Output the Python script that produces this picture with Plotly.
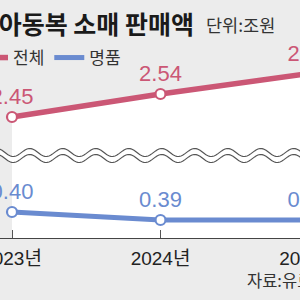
import numpy as np
import plotly.graph_objects as go

# ---- data ----
years = [2023, 2024, 2025]
year_labels = ["2023년", "2024년", "2025년"]
total_sales = [2.45, 2.54, 2.62]     # 전체 (조원)
luxury_sales = [0.40, 0.39, 0.39]    # 명품 (조원)
series_names = ["전체", "명품"]
title_text = "국내 아동복 소매 판매액"
unit_text = "단위:조원"
source_text = "자료:유로모니터"

# ---- style ----
RED = "#cb5775"
BLUE = "#6a8bd0"
BG = "#ececec"
NUM_FONT = "Liberation Sans Narrow, Arial Narrow, Liberation Sans, Noto Sans CJK KR"
KR_FONT = "Noto Sans CJK KR, Noto Sans, sans-serif"

W, H = 320, 300
PLOT_H = 238  # plot area height in px (axis line at y=238)

# x range so that first year sits 12px from left edge, 148.5px per year
px_per_year = 148.5
x0 = years[0] - 12 / px_per_year
x1 = x0 + W / px_per_year

# upper (total) axis scale
red_ppu = 255.6
r0 = total_sales[0] - (PLOT_H - 117) / red_ppu
r1 = r0 + PLOT_H / red_ppu
# lower (luxury) axis scale
blue_ppu = 800.0
b0 = luxury_sales[0] - (PLOT_H - 212) / blue_ppu
b1 = b0 + PLOT_H / blue_ppu

fig = go.Figure()

# white area under the total line
fig.add_trace(go.Scatter(x=years, y=total_sales, mode="lines", fill="tozeroy",
                         fillcolor="white", line=dict(width=0, color="white"),
                         showlegend=False, hoverinfo="skip", yaxis="y"))
# legend + lines
fig.add_trace(go.Scatter(x=years, y=total_sales, mode="lines", name=series_names[0],
                         line=dict(color=RED, width=5.5), yaxis="y"))
fig.add_trace(go.Scatter(x=years, y=luxury_sales, mode="lines", name=series_names[1],
                         line=dict(color=BLUE, width=5), yaxis="y2"))
# markers + value labels
fig.add_trace(go.Scatter(x=years, y=total_sales, mode="markers+text",
                         marker=dict(size=10, color="white", line=dict(color=RED, width=2.2)),
                         texttemplate="%{y:.2f}", textposition="top center",
                         textfont=dict(family=NUM_FONT, size=22, color=RED),
                         cliponaxis=False, showlegend=False, yaxis="y"))
fig.add_trace(go.Scatter(x=years, y=luxury_sales, mode="markers+text",
                         marker=dict(size=10, color="white", line=dict(color=BLUE, width=2.2)),
                         texttemplate="%{y:.2f}", textposition="top center",
                         textfont=dict(family=NUM_FONT, size=22, color=BLUE),
                         cliponaxis=False, showlegend=False, yaxis="y2"))

# wavy axis-break decoration (paper coords)
xs = np.arange(-5, W + 6, 1.0)
period = 33.0
upper = 152.5 + 4.0 * np.sin(2 * np.pi * (xs - 5) / period)
lower = upper + 6.0
def to_paper(px, py):
    return px / W, (PLOT_H - py) / PLOT_H
def path_of(xa, ya):
    pts = [to_paper(a, b) for a, b in zip(xa, ya)]
    return "M" + " L".join(f"{p[0]:.5f},{p[1]:.5f}" for p in pts)
band = path_of(xs, upper) + " L" + " L".join(
    f"{to_paper(a, b)[0]:.5f},{to_paper(a, b)[1]:.5f}" for a, b in zip(xs[::-1], lower[::-1])) + " Z"
fig.add_shape(type="path", path=band, xref="paper", yref="paper",
              fillcolor="white", line=dict(width=0), layer="above")
for curve in (upper, lower):
    fig.add_shape(type="path", path=path_of(xs, curve), xref="paper", yref="paper",
                  line=dict(color="#555555", width=1.2), layer="above")

def ann(text, xpx, ypx, size, color, anchor="left", bold=False, family=KR_FONT):
    px, py = to_paper(xpx, ypx)
    fig.add_annotation(text=f"<b>{text}</b>" if bold else text, x=px, y=py,
                       xref="paper", yref="paper", xanchor=anchor, yanchor="middle",
                       showarrow=False, font=dict(family=family, size=size, color=color))

ann(title_text, 196, 23, 25, "#1a1a1a", anchor="right", bold=True)
ann(unit_text, 204, 25, 17.5, "#333333")
ann(source_text, 245, 280, 16.5, "#333333")

fig.update_layout(
    width=W, height=H,
    margin=dict(l=0, r=0, t=0, b=H - PLOT_H, autoexpand=False),
    paper_bgcolor=BG, plot_bgcolor=BG,
    showlegend=True,
    legend=dict(orientation="h", x=-27 / W, xanchor="left", y=(PLOT_H - 58) / PLOT_H,
                yanchor="middle", bgcolor="rgba(0,0,0,0)",
                font=dict(family=KR_FONT, size=17, color="#333333"),
                itemclick=False, itemdoubleclick=False),
    xaxis=dict(range=[x0, x1], tickvals=years, ticktext=year_labels,
               ticks="inside", ticklen=8, tickcolor="#555555", tickwidth=1,
               showline=True, linecolor="#444444", linewidth=1,
               showgrid=False, zeroline=False, ticklabelstandoff=3,
               ticklabeloverflow="allow",
               tickfont=dict(family=NUM_FONT, size=19, color="#222222")),
    yaxis=dict(range=[r0, r1], visible=False, fixedrange=True),
    yaxis2=dict(range=[b0, b1], visible=False, overlaying="y", fixedrange=True),
)

fig.write_html("out.html", config={"staticPlot": True},
               post_script="document.body.style.overflow='hidden';document.body.style.margin='0';")
